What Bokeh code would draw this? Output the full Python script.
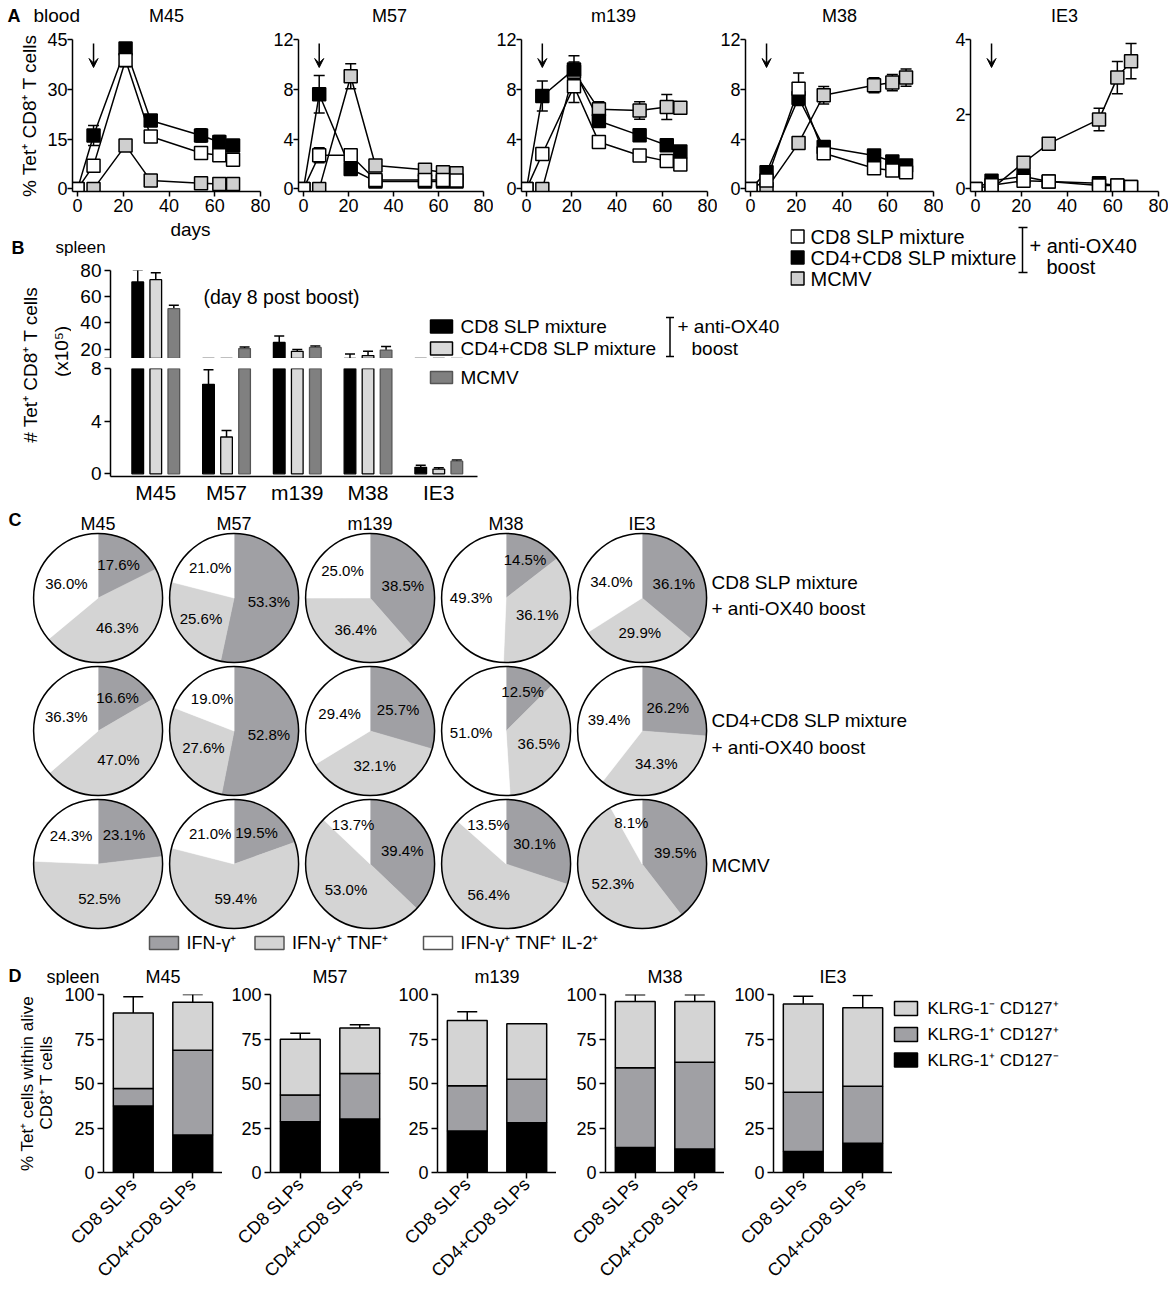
import math
from bokeh.plotting import figure
from bokeh.layouts import row, column
from bokeh.models import (Range1d, Label, Whisker, ColumnDataSource, Arrow,
                          VeeHead, TeeHead, FixedTicker)
from bokeh.embed import file_html
from bokeh.resources import INLINE
from bokeh.core.properties import value

FONT = "Liberation Sans"

# ======================= DATA =======================
antigens = ["M45", "M57", "m139", "M38", "IE3"]
groups = ["CD8 SLP mixture", "CD4+CD8 SLP mixture", "MCMV"]

# ---- A: blood kinetics, % Tet+ CD8+ T cells (mean, error) ----
a_days = [0, 7, 21, 32, 54, 62, 68]
a_days_m139 = [0, 7, 21, 32, 50, 62, 68]
a_xticks = [0, 20, 40, 60, 80]
a_ymax = [45, 12, 12, 12, 4]
a_yticks = [[0, 15, 30, 45], [0, 4, 8, 12], [0, 4, 8, 12], [0, 4, 8, 12], [0, 2, 4]]

M45_cd8 = [0, 7.0, 38.8, 15.8, 10.8, 10.1, 8.8]
M45_cd8_err = [0, 1.5, 2.0, 1.2, 1.2, 1.5, 1.2]
M45_cd4 = [0, 16.1, 42.3, 20.6, 16.1, 14.1, 13.1]
M45_cd4_err = [0, 3.0, 1.0, 1.5, 2.0, 2.0, 1.2]
M45_mcmv = [0, 13.1, 2.5, 1.7, 1.5, 1.5]
M45_mcmv_err = [0, 1.5, 0.5, 0.3, 0.3, 0.3]

M57_cd8 = [0, 2.7, 2.7, 0.72, 0.72, 0.72, 0.67]
M57_cd8_err = [0, 0.6, 0.3, 0.1, 0.1, 0.1, 0.1]
M57_cd4 = [0, 7.6, 1.6, 0.6, 0.6, 0.6, 0.6]
M57_cd4_err = [0, 1.5, 0.3, 0.1, 0.1, 0.1, 0.1]
M57_mcmv = [0, 9.05, 1.88, 1.53, 1.34, 1.26]
M57_mcmv_err = [0, 1.0, 0.2, 0.2, 0.2, 0.2]

m139_cd8 = [0, 2.8, 8.24, 3.76, 2.68, 2.23, 1.96]
m139_cd8_err = [0, 0.3, 1.3, 0.3, 0.3, 0.3, 0.2]
m139_cd4 = [0, 7.46, 9.6, 5.45, 4.3, 3.5, 3.0]
m139_cd4_err = [0, 1.2, 1.1, 0.4, 0.4, 0.3, 0.3]
m139_mcmv = [0, 9.4, 6.39, 6.3, 6.58, 6.52]
m139_mcmv_err = [0, 0.8, 0.6, 0.7, 1.0, 0.3]

M38_cd8 = [0, 0.67, 8.05, 2.87, 1.66, 1.48, 1.34]
M38_cd8_err = [0, 0.2, 1.25, 0.4, 0.3, 0.2, 0.2]
M38_cd4 = [0, 1.34, 7.3, 3.36, 2.68, 2.2, 1.88]
M38_cd4_err = [0, 0.3, 0.6, 0.3, 0.2, 0.2, 0.2]
M38_mcmv = [0, 3.68, 7.52, 8.32, 8.54, 8.94]
M38_mcmv_err = [0, 0.3, 0.7, 0.6, 0.65, 0.7]

IE3_cd8 = [0, 0.10, 0.22, 0.20, 0.09, 0.09, 0.05]
IE3_cd8_err = [0, 0.03, 0.05, 0.03, 0.02, 0.02, 0.02]
IE3_cd4 = [0, 0.22, 0.33, 0.20, 0.15, 0.09, 0.05]
IE3_cd4_err = [0, 0.05, 0.05, 0.03, 0.03, 0.02, 0.02]
IE3_mcmv = [0, 0.70, 1.21, 1.86, 2.98, 3.42]
IE3_mcmv_err = [0, 0.05, 0.10, 0.30, 0.43, 0.47]

# ---- B: spleen, # Tet+ CD8+ T cells (x10^5), day 8 post boost ----
b_cd8 = [71.3, 6.8, 25.0, 12.4, 0.50]
b_cd8_err = [9.0, 1.1, 5.0, 3.7, 0.15]
b_cd4 = [73.0, 2.8, 18.2, 15.0, 0.36]
b_cd4_err = [5.3, 0.5, 1.5, 3.2, 0.10]
b_mcmv = [50.8, 20.3, 21.2, 19.2, 0.96]
b_mcmv_err = [2.7, 1.2, 1.0, 2.7, 0.10]
b_top_ticks = [20, 40, 60, 80]
b_bottom_ticks = [0, 4, 8]

# ---- C: cytokine profiles (%) ----
c_cd8_ifn = [17.6, 53.3, 38.5, 14.5, 36.1]
c_cd8_ifn_tnf = [46.3, 25.6, 36.4, 36.1, 29.9]
c_cd8_ifn_tnf_il2 = [36.0, 21.0, 25.0, 49.3, 34.0]
c_cd4_ifn = [16.6, 52.8, 25.7, 12.5, 26.2]
c_cd4_ifn_tnf = [47.0, 27.6, 32.1, 36.5, 34.3]
c_cd4_ifn_tnf_il2 = [36.3, 19.0, 29.4, 51.0, 39.4]
c_mcmv_ifn = [23.1, 19.5, 39.4, 30.1, 39.5]
c_mcmv_ifn_tnf = [52.5, 59.4, 53.0, 56.4, 52.3]
c_mcmv_ifn_tnf_il2 = [24.3, 21.0, 13.7, 13.5, 8.1]
c_row_labels = [["CD8 SLP mixture", "+ anti-OX40 boost"],
                ["CD4+CD8 SLP mixture", "+ anti-OX40 boost"],
                ["MCMV"]]
c_legend = ["IFN-\u03b3\u207a", "IFN-\u03b3\u207a TNF\u207a", "IFN-\u03b3\u207a TNF\u207a IL-2\u207a"]

# ---- D: KLRG-1 / CD127 phenotype (% of Tet+ within alive CD8+) ----
d_cats = ["CD8 SLPs", "CD4+CD8 SLPs"]
d_klrg1p_cd127n = [[37.3, 21.1], [28.5, 30.0], [23.3, 28.0], [14.1, 13.2], [11.8, 16.5]]
d_klrg1p_cd127p = [[9.9, 47.6], [15.0, 25.6], [25.4, 24.4], [44.7, 48.8], [33.3, 32.0]]
d_klrg1n_cd127p = [[42.4, 27.0], [31.3, 25.6], [36.7, 31.1], [37.2, 34.0], [49.5, 44.0]]
d_err_klrg1p_cd127n = [[9.3, 1.3], [3.8, 1.7], [3.9, 0], [0.6, 0], [3.2, 4.4]]
d_err_klrg1p_cd127p = [[2.2, 2.2], [2.2, 3.2], [3.2, 0], [4.4, 0], [6.6, 6.6]]
d_err_klrg1n_cd127p = [[9.1, 4.3], [3.5, 1.8], [4.9, 0], [3.8, 3.8], [4.4, 7.0]]
d_yticks = [0, 25, 50, 75, 100]
d_legend = ["KLRG-1\u207b CD127\u207a", "KLRG-1\u207a CD127\u207a", "KLRG-1\u207a CD127\u207b"]

# ======================= STYLE =======================
A_GRAY = "#cfcfcf"
B_COLORS = ["#000000", "#d9d9d9", "#808080"]
B_LINES = ["#000000", "#000000", "#555555"]
PIE_COLORS = ["#a0a0a4", "#d4d4d4", "#ffffff"]
D_COLORS = ["#000000", "#a0a0a4", "#d4d4d4"]
PAGE_W = 1168


class Geo:
    """maps page pixel positions into a figure's data coordinates"""
    def __init__(self, left, top, w, h, xr, yr):
        self.left, self.top, self.w, self.h = left, top, w, h
        self.x0, self.x1 = xr
        self.y0, self.y1 = yr

    def x(self, px):
        return self.x0 + (px - self.left) / self.w * (self.x1 - self.x0)

    def y(self, py):
        return self.y1 - (py - self.top) / self.h * (self.y1 - self.y0)


def plot_fig(fl, ft, fw, fh, L, R, T, B, xr, yr, xaxis=True):
    p = figure(width=L + fw + R, height=T + fh + B,
               min_border_left=L, min_border_right=R, min_border_top=T, min_border_bottom=B,
               x_range=Range1d(*xr), y_range=Range1d(*yr),
               x_axis_location="below" if xaxis else None,
               output_backend="svg", toolbar_location=None, tools="")
    p.grid.visible = False
    p.outline_line_color = None
    return p, Geo(fl, ft, fw, fh, xr, yr)


def canvas(x0, x1, y0, y1):
    p = figure(width=x1 - x0, height=y1 - y0, x_range=Range1d(x0, x1), y_range=Range1d(y1, y0),
               x_axis_location=None, y_axis_location=None, min_border=0, frame_align=False,
               output_backend="svg", toolbar_location=None, tools="")
    p.grid.visible = False
    p.outline_line_color = None
    return p, Geo(x0, y0, x1 - x0, y1 - y0, (x0, x1), (y1, y0))


def style_axis(ax, size, tick_out=6, standoff=3):
    ax.axis_line_width = 1.5
    ax.axis_line_color = "black"
    ax.major_tick_line_width = 1.5
    ax.major_tick_line_color = "black"
    ax.major_tick_out = tick_out
    ax.major_tick_in = 0
    ax.minor_tick_line_color = None
    ax.major_label_text_font = FONT
    ax.major_label_text_font_size = size
    ax.major_label_text_color = "black"
    ax.major_label_standoff = standoff
    ax.axis_label_text_font = FONT
    ax.axis_label_text_font_style = "normal"
    ax.axis_label_text_color = "black"


def label(p, g, px, py, text, size, align="left", bold=False, angle=0.0):
    p.add_layout(Label(x=g.x(px), y=g.y(py), text=text, text_font=FONT,
                       text_font_size=f"{size}px", text_align=align, text_baseline="middle",
                       text_font_style="bold" if bold else "normal", angle=angle,
                       text_color="black"))


def add_err(p, xs, lows, highs, size):
    keep = [(x, lo, hi) for x, lo, hi in zip(xs, lows, highs) if hi > lo]
    if not keep:
        return
    src = ColumnDataSource(dict(x=[k[0] for k in keep], lo=[k[1] for k in keep],
                                hi=[k[2] for k in keep]))
    p.add_layout(Whisker(source=src, base="x", lower="lo", upper="hi",
                         line_color="black", line_width=1.5,
                         upper_head=TeeHead(size=size, line_width=1.5, line_color="black"),
                         lower_head=None))


# ======================= PANEL A =======================
a_data = [
    (a_days, M45_cd8, M45_cd8_err, M45_cd4, M45_cd4_err, M45_mcmv, M45_mcmv_err),
    (a_days, M57_cd8, M57_cd8_err, M57_cd4, M57_cd4_err, M57_mcmv, M57_mcmv_err),
    (a_days_m139, m139_cd8, m139_cd8_err, m139_cd4, m139_cd4_err, m139_mcmv, m139_mcmv_err),
    (a_days, M38_cd8, M38_cd8_err, M38_cd4, M38_cd4_err, M38_mcmv, M38_mcmv_err),
    (a_days, IE3_cd8, IE3_cd8_err, IE3_cd4, IE3_cd4_err, IE3_mcmv, IE3_mcmv_err),
]
A_HEAD = 28
A_L = [72, 25, 26, 28, 27]
A_R = [10, 10, 10, 10, 10]
A_FW, A_FH, A_B, A_TOP = 188, 152, 28, 39

head_a, gha = canvas(0, PAGE_W, 0, A_HEAD)
label(head_a, gha, 7, 15, "A", 18, bold=True)
label(head_a, gha, 33, 15, "blood", 19)

a_figs = []
xcur = 0
for i, ag in enumerate(antigens):
    fl = xcur + A_L[i]
    ymax = a_ymax[i]
    p, g = plot_fig(fl, A_TOP, A_FW, A_FH, A_L[i], A_R[i], A_TOP - A_HEAD, A_B,
                    (-2.2, 80.0), (-0.0175 * ymax, ymax))
    xcur += A_L[i] + A_FW + A_R[i]
    label(head_a, gha, fl + A_FW / 2, 15, ag, 18, align="center")
    days, c8, c8e, c4, c4e, mc, mce = a_data[i]
    series = [(days[1:], mc, mce, A_GRAY), (days, c4, c4e, "black"), (days, c8, c8e, "white")]
    for d, v, e, col in series:
        p.line(d, v, line_color="black", line_width=1.5)
    for d, v, e, col in series:
        keep = [(x, y, er) for x, y, er in zip(d, v, e) if er > 0]
        src = ColumnDataSource(dict(x=[k[0] for k in keep], lo=[k[1] - k[2] for k in keep],
                                    hi=[k[1] + k[2] for k in keep]))
        p.add_layout(Whisker(source=src, base="x", lower="lo", upper="hi",
                             line_color="black", line_width=1.5,
                             upper_head=TeeHead(size=11, line_width=1.5, line_color="black"),
                             lower_head=TeeHead(size=11, line_width=1.5, line_color="black")))
    for d, v, e, col in series:
        p.scatter(d, v, marker="square", size=13, fill_color=col,
                  line_color="black", line_width=1.5)
    p.add_layout(Arrow(end=VeeHead(size=9, fill_color="black", line_color="black", line_width=1),
                       x_start=7, y_start=g.y(43), x_end=7, y_end=g.y(67),
                       line_width=1.5, line_color="black"))
    p.xaxis.ticker = FixedTicker(ticks=a_xticks)
    p.yaxis.ticker = FixedTicker(ticks=a_yticks[i])
    style_axis(p.xaxis[0], "18px", tick_out=5, standoff=2)
    style_axis(p.yaxis[0], "18px", tick_out=5, standoff=0)
    if i == 0:
        p.yaxis.axis_label = "% Tet\u207a CD8\u207a T cells"
        p.yaxis.axis_label_text_font_size = "19px"
        p.yaxis.axis_label_standoff = 4
    a_figs.append(p)
row_a = row(*a_figs)

# ======================= PANEL B =======================
B_RIGHT = 790
B_HEAD1 = 258
header, gh = canvas(0, B_RIGHT, 219, B_HEAD1)
label(header, gh, 190, 229, "days", 19, align="center")
label(header, gh, 11, 247, "B", 18, bold=True)
label(header, gh, 55, 247, "spleen", 17)

lab_fig, gl = canvas(0, 71, B_HEAD1, 506)
label(lab_fig, gl, 30, 364, "# Tet\u207a CD8\u207a T cells", 19, align="center", angle=math.pi / 2)
label(lab_fig, gl, 61, 351, "(x10\u2075)", 19, align="center", angle=math.pi / 2)

B_PXU = 70.75
B_AXIS = (-0.64, 4.55)
B_FW = B_RIGHT - 110
B_XR = (B_AXIS[0], B_AXIS[0] + B_FW / B_PXU)
b_off = [-0.255, 0.0, 0.255]
b_vals = [(b_cd8, b_cd8_err), (b_cd4, b_cd4_err), (b_mcmv, b_mcmv_err)]

# broken axis: upper segment 80 at y=270 and 20 at y=348.5, lower segment 0..8
BT_TOP, BT_BOT = 270, 358
bt_min = 80 - (BT_BOT - BT_TOP) * 60 / (348.5 - BT_TOP)
btop, gt = plot_fig(110, BT_TOP, B_FW, BT_BOT - BT_TOP, 39, 0, BT_TOP - B_HEAD1, 0,
                    B_XR, (bt_min, 80), xaxis=False)
bbot, gb = plot_fig(110, 368, B_FW, 108, 39, 0, 368 - BT_BOT, 30, B_XR, (-0.2, 8))
for p in (btop, bbot):
    for k, (vals, errs) in enumerate(b_vals):
        xs = [j + b_off[k] for j in range(len(antigens))]
        p.vbar(x=xs, top=vals, bottom=0, width=0.165, fill_color=B_COLORS[k],
               line_color=B_LINES[k], line_width=1.3)
        add_err(p, xs, vals, [v + e for v, e in zip(vals, errs)], 10)
    style_axis(p.yaxis[0], "19px")
btop.yaxis.ticker = FixedTicker(ticks=[bt_min] + b_top_ticks)
btop.yaxis.major_label_overrides = {bt_min: ""}
bbot.yaxis.ticker = FixedTicker(ticks=b_bottom_ticks)
bbot.xaxis.ticker = FixedTicker(ticks=list(range(len(antigens))))
bbot.xaxis.major_label_overrides = {j: a for j, a in enumerate(antigens)}
bbot.xaxis.bounds = B_AXIS
style_axis(bbot.xaxis[0], "21px", tick_out=0, standoff=4)

label(btop, gt, 203, 296, "(day 8 post boost)", 19.5)
# legend B
for k, yy in enumerate([326, 348]):
    btop.rect(x=[gt.x(441)], y=[gt.y(yy)], width=22, height=13, width_units="screen",
              height_units="screen", fill_color=B_COLORS[k], line_color=B_LINES[k], line_width=1.5)
    label(btop, gt, 460, yy, groups[k], 19)
bbot.rect(x=[gb.x(441)], y=[gb.y(377)], width=22, height=12, width_units="screen",
          height_units="screen", fill_color=B_COLORS[2], line_color=B_LINES[2], line_width=1.5)
label(bbot, gb, 460, 377, groups[2], 19)
btop.segment(x0=[gt.x(669.5), gt.x(665.5), gt.x(665.5)], y0=[gt.y(317), gt.y(317), gt.y(356)],
             x1=[gt.x(669.5), gt.x(673.5), gt.x(673.5)], y1=[gt.y(356), gt.y(317), gt.y(356)],
             line_color="black", line_width=1.5)
label(btop, gt, 677, 326, "+ anti-OX40", 19)
label(btop, gt, 691, 348, "boost", 19)

b_left = column(header, row(lab_fig, column(btop, bbot)))

# legend A
aleg, ga = canvas(B_RIGHT, PAGE_W, 219, 506)
leg_y = [236, 257, 278]
aleg.scatter(x=[797] * 3, y=leg_y, marker="square", size=13,
             fill_color=["white", "black", A_GRAY], line_color="black", line_width=1.5)
aleg.text(x=[810] * 3, y=leg_y, text=groups, text_font=value(FONT), text_font_size="20px",
          text_align="left", text_baseline="middle")
aleg.segment(x0=[1022, 1018, 1018], y0=[227, 227, 272], x1=[1022, 1027, 1027], y1=[272, 227, 272],
             line_color="black", line_width=1.5)
aleg.text(x=[1029, 1046], y=[245, 266], text=["+ anti-OX40", "boost"], text_font=value(FONT),
          text_font_size="20px", text_align="left", text_baseline="middle")

row_b = row(b_left, aleg)

# ======================= PANEL C =======================
PIE_TOP, PIE_BOT = 506, 952
col_dx, row_dy = 136.0, 133.0
cx0, cy0 = 97.6, 597.5
pxr = ((0 - cx0) / col_dx, (PAGE_W - cx0) / col_dx)
pyr = (-(PIE_BOT - cy0) / row_dy, (cy0 - PIE_TOP) / row_dy)
pie = figure(width=PAGE_W, height=PIE_BOT - PIE_TOP, x_range=Range1d(*pxr), y_range=Range1d(*pyr),
             x_axis_location=None, y_axis_location=None, min_border=0, frame_align=False,
             output_backend="svg", toolbar_location=None, tools="")
pie.grid.visible = False
pie.outline_line_color = None
gp = Geo(0, PIE_TOP, PAGE_W, PIE_BOT - PIE_TOP, pxr, pyr)

pie_rows = [(c_cd8_ifn, c_cd8_ifn_tnf, c_cd8_ifn_tnf_il2),
            (c_cd4_ifn, c_cd4_ifn_tnf, c_cd4_ifn_tnf_il2),
            (c_mcmv_ifn, c_mcmv_ifn_tnf, c_mcmv_ifn_tnf_il2)]
R_PIE = 64.5
W = dict(x=[], y=[], s=[], e=[], c=[])
T = dict(x=[], y=[], t=[], dx=[], dy=[])
for i, triple in enumerate(pie_rows):
    for j in range(len(antigens)):
        vals = [t[j] for t in triple]
        tot = sum(vals)
        cum = 0.0
        for v, col in zip(vals, PIE_COLORS):
            f0 = cum / tot
            cum += v
            f1 = cum / tot
            W["x"].append(j); W["y"].append(-i)
            W["s"].append(math.pi / 2 - 2 * math.pi * f1)
            W["e"].append(math.pi / 2 - 2 * math.pi * f0)
            W["c"].append(col)
            mid = (f0 + f1) * math.pi
            frac = f1 - f0
            d = 35 if frac > 0.26 else (39 if frac > 0.16 else 43)
            T["x"].append(j); T["y"].append(-i)
            T["t"].append(f"{v:.1f}%")
            T["dx"].append(d * math.sin(mid)); T["dy"].append(-d * math.cos(mid))
pie.wedge(x="x", y="y", radius=R_PIE, radius_units="screen", start_angle="s", end_angle="e",
          fill_color="c", line_color="c", line_width=0.5, source=ColumnDataSource(W))
px = [j for i in range(3) for j in range(5)]
py = [-i for i in range(3) for j in range(5)]
pie.circle(x=px, y=py, radius=R_PIE, radius_units="screen", fill_color=None,
           line_color="black", line_width=1.5)
pie.text(x="x", y="y", text="t", x_offset="dx", y_offset="dy", source=ColumnDataSource(T),
         text_font=value(FONT), text_font_size="15px", text_align="center", text_baseline="middle")
pie.text(x=list(range(5)), y=[gp.y(523)] * 5, text=antigens, text_font=value(FONT),
         text_font_size="18px", text_align="center", text_baseline="middle")
pie.text(x=[gp.x(8)], y=[gp.y(519)], text=["C"], text_font=value(FONT), text_font_size="18px",
         text_font_style="bold", text_align="left", text_baseline="middle")
rl_x, rl_y, rl_t = [], [], []
for i, lines in enumerate(c_row_labels):
    base = [[582, 608], [720, 747], [865]][i]
    for ln, yy in zip(lines, base):
        rl_x.append(gp.x(711)); rl_y.append(gp.y(yy)); rl_t.append(ln)
pie.text(x=rl_x, y=rl_y, text=rl_t, text_font=value(FONT), text_font_size="19px",
         text_align="left", text_baseline="middle")
box_l = [149, 254.5, 423]
pie.rect(x=[gp.x(b + 14.5) for b in box_l], y=[gp.y(942.5)] * 3, width=29, height=13,
         width_units="screen", height_units="screen", fill_color=PIE_COLORS,
         line_color="#555555", line_width=1.5)
pie.text(x=[gp.x(b + 37) for b in box_l], y=[gp.y(942.5)] * 3, text=c_legend,
         text_font=value(FONT), text_font_size="18px", text_align="left", text_baseline="middle")

# ======================= PANEL D =======================
D_HEAD0, D_HEAD1 = 952, 985
head_d, ghd = canvas(0, PAGE_W, D_HEAD0, D_HEAD1)
label(head_d, ghd, 8, 975, "D", 18, bold=True)
label(head_d, ghd, 46, 976, "spleen", 18)

D_LAB = 56
D_L = [47, 48, 48, 49, 49]
D_FW, D_FH, D_B, D_TOP = 119, 179, 117, 994
dlab, gdl = canvas(0, D_LAB, D_HEAD1, D_TOP + D_FH + D_B)
label(dlab, gdl, 27, 1083, "% Tet\u207a cells within alive", 17, align="center", angle=math.pi / 2)
label(dlab, gdl, 46, 1082, "CD8\u207a T cells", 17, align="center", angle=math.pi / 2)

d_figs = []
xcur = D_LAB
for i, ag in enumerate(antigens):
    fl = xcur + D_L[i]
    p, g = plot_fig(fl, D_TOP, D_FW, D_FH, D_L[i], 0, D_TOP - D_HEAD1, D_B, (-0.5, 1.5), (0, 100))
    xcur += D_L[i] + D_FW
    label(head_d, ghd, fl + D_FW / 2, 976, ag, 18, align="center")
    segs = [d_klrg1p_cd127n[i], d_klrg1p_cd127p[i], d_klrg1n_cd127p[i]]
    errs = [d_err_klrg1p_cd127n[i], d_err_klrg1p_cd127p[i], d_err_klrg1n_cd127p[i]]
    src = ColumnDataSource(dict(x=[0, 1], s0=segs[0], s1=segs[1], s2=segs[2]))
    p.vbar_stack(["s0", "s1", "s2"], x="x", width=0.67, source=src, fill_color=D_COLORS,
                 line_color="black", line_width=1.5)
    cum = [0.0, 0.0]
    for sv, ev in zip(segs, errs):
        cum = [c + s for c, s in zip(cum, sv)]
        add_err(p, [0, 1], cum, [c + e for c, e in zip(cum, ev)], 20)
    p.xaxis.ticker = FixedTicker(ticks=[0, 1])
    p.xaxis.major_label_overrides = {0: d_cats[0], 1: d_cats[1]}
    p.xaxis.major_label_orientation = math.pi / 4
    p.yaxis.ticker = FixedTicker(ticks=d_yticks)
    style_axis(p.xaxis[0], "18px")
    style_axis(p.yaxis[0], "18px")
    d_figs.append(p)

dleg, gd = canvas(xcur, PAGE_W, D_HEAD1, D_TOP + D_FH + D_B)
dleg.rect(x=[905.5] * 3, y=[1008, 1034, 1059.5], width=23, height=14,
          fill_color=[D_COLORS[2], D_COLORS[1], D_COLORS[0]], line_color="black", line_width=1.5)
dleg.text(x=[927] * 3, y=[1008, 1034, 1059.5], text=d_legend, text_font=value(FONT),
          text_font_size="17px", text_align="left", text_baseline="middle")
row_d = row(dlab, *d_figs, dleg)

layout = column(head_a, row_a, row_b, pie, head_d, row_d)
open("out.html", "w").write(file_html(layout, INLINE))
